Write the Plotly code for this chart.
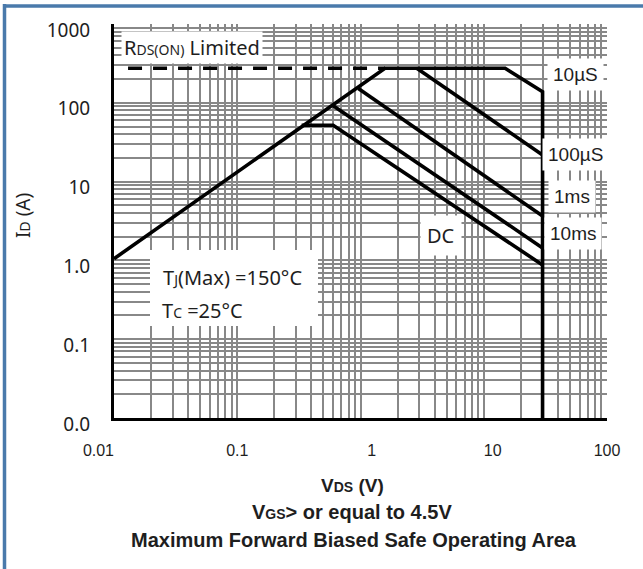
import plotly.graph_objects as go

# ---------------- data ----------------
vds_10us = [0.01, 1.58, 14.9, 30, 30]
id_10us = [1.05, 275, 275, 138, 0.01]
vds_100us = [2.86, 30]
id_100us = [275, 21.8]
vds_1ms = [0.96, 30]
id_1ms = [152, 3.66]
vds_10ms = [0.60, 30]
id_10ms = [92, 1.44]
vds_dc = [0.333, 0.60, 30]
id_dc = [52, 52, 0.875]
vds_rds = [0.013, 1.58]
id_rds = [275, 275]

x_tick_vals = [0.01, 0.1, 1, 10, 100]
x_tick_text = ["0.01" + "&nbsp;" * 7, "0.1", "&nbsp;" * 5 + "1", "&nbsp;" * 4 + "10", "100"]
y_tick_vals = [0.01, 0.1, 1, 10, 100, 1000]
y_tick_text = ["0.0", "0.1", "1.0", "10", "100", "1000"]

minor_vals = [m * 10 ** k for k in range(-2, 3) for m in range(2, 10)]

# ---------------- geometry helpers ----------------
W, H = 643, 569
L, R, T, B = 114, 607, 24, 418


def px(x):
    return (x - L) / (R - L)


def py(y):
    return (B - y) / (B - T)


GRID = "#888888"
TXT = "#1e1e1e"
LW = 3.6

fig = go.Figure()


def add_line(xs, ys, dash=None):
    fig.add_trace(go.Scatter(
        x=xs, y=ys, mode="lines",
        line=dict(color="black", width=LW, dash=dash),
        showlegend=False, hoverinfo="skip"))


add_line(vds_rds, id_rds, dash="14px,11px")
add_line(vds_10us, id_10us)
add_line(vds_100us, id_100us)
add_line(vds_1ms, id_1ms)
add_line(vds_10ms, id_10ms)
add_line(vds_dc, id_dc)

sm = lambda s, size=14: f"<span style='font-size:{size}px'>{s}</span>"

annotations = []


def label(text, x, y, font, size, bg=True, xanchor="center", pad=4):
    annotations.append(dict(
        text=text, xref="paper", yref="paper", x=px(x), y=py(y),
        xanchor=xanchor, yanchor="middle", showarrow=False,
        font=dict(family=font, size=size, color=TXT),
        bgcolor="white" if bg else None, borderpad=pad))


label("R" + sm("DS(ON)") + " Limited", 121, 47, "Noto Sans", 20, xanchor="left", pad=2)
label("10µS", 575, 74, "Liberation Sans", 19, pad=5)
label("100µS", 575, 154, "Liberation Sans", 19, pad=5)
label("1ms", 572, 196, "Liberation Sans", 19, pad=5)
label("10ms", 573, 234, "Liberation Sans", 19, pad=5)
label("DC", 441, 235, "Noto Sans", 20, pad=6)
label("T" + sm("J") + "(Max) =150°C", 158, 277, "Noto Sans", 20, bg=False, xanchor="left")
label("T" + sm("C") + " =25°C", 157, 310, "Noto Sans", 20, bg=False, xanchor="left")

# axis titles / captions
label("<b>V" + sm("DS", 14) + " (V)</b>", 352, 485, "Liberation Sans", 19, bg=False)
label("<b>V" + sm("GS", 14) + "> or equal to 4.5V</b>", 352, 512, "Liberation Sans", 20, bg=False)
label("<b>Maximum Forward Biased Safe Operating Area</b>", 354, 540, "Liberation Sans", 20, bg=False)
annotations.append(dict(
    text="I" + sm("D", 14) + " (A)", xref="paper", yref="paper", x=px(23), y=py(216),
    xanchor="center", yanchor="middle", showarrow=False, textangle=-90,
    font=dict(family="Noto Sans", size=19, color=TXT)))

shapes = [
    # white box behind Tj / Tc text
    dict(type="rect", xref="paper", yref="paper", x0=px(150), x1=px(318), y0=py(250), y1=py(326),
         fillcolor="white", line=dict(width=0), layer="above"),
    # blue frame (left and top edges)
    dict(type="line", xref="paper", yref="paper", x0=px(4.5), x1=px(4.5), y0=py(4), y1=py(569),
         line=dict(color="#4a7aab", width=3.5), layer="above"),
    dict(type="line", xref="paper", yref="paper", x0=px(3), x1=px(643), y0=py(6), y1=py(6),
         line=dict(color="#4a7aab", width=3.5), layer="above"),
]

fig.update_layout(
    width=W, height=H,
    margin=dict(l=L, r=W - R, t=T, b=H - B, pad=0, autoexpand=False),
    paper_bgcolor="white", plot_bgcolor="white",
    annotations=annotations, shapes=shapes,
    xaxis=dict(
        type="log", range=[-2, 2], tickvals=x_tick_vals, ticktext=x_tick_text,
        showgrid=True, gridcolor=GRID, gridwidth=1.6,
        minor=dict(tickvals=minor_vals, showgrid=True, gridcolor=GRID, gridwidth=1.6, ticks=""),
        showline=True, linecolor="black", linewidth=3, ticks="",
        ticklabelstandoff=16, zeroline=False, automargin=False,
        tickfont=dict(family="Liberation Sans", size=16, color=TXT),
    ),
    yaxis=dict(
        type="log", range=[-2, 3], tickvals=y_tick_vals, ticktext=y_tick_text,
        showgrid=True, gridcolor=GRID, gridwidth=1.6,
        minor=dict(tickvals=minor_vals, showgrid=True, gridcolor=GRID, gridwidth=1.6, ticks=""),
        showline=True, linecolor="black", linewidth=3, ticks="",
        ticklabelstandoff=17, ticklabelshift=6, zeroline=False, automargin=False,
        tickfont=dict(family="Noto Sans", size=19, color=TXT),
    ),
)

fig.write_html("out.html", config={"displayModeBar": False},
               post_script="document.body.style.margin='0';")
